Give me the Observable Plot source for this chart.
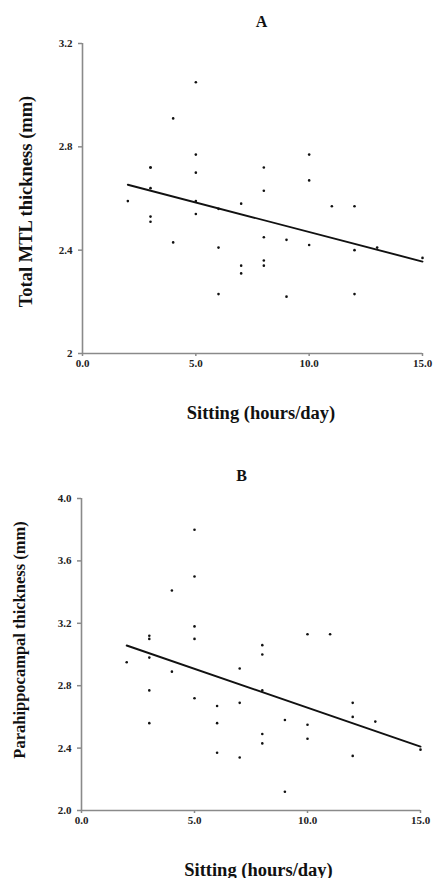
<!DOCTYPE html>
<html>
<head>
<meta charset="utf-8">
<script src="https://cdn.jsdelivr.net/npm/d3@7"></script>
<script src="https://cdn.jsdelivr.net/npm/@observablehq/plot@0.6"></script>
<style>
  html, body { margin: 0; padding: 0; background: #fff; }
  #chart { width: 433px; }
  #chart svg { display: block; }
</style>
</head>
<body>
<div id="chart"></div>
<script>
// ---- Panel A: Total MTL thickness ----
const sittingA = [2, 3, 3, 3, 3, 3, 4, 4, 5, 5, 5, 5, 5, 6, 6, 6, 7, 7, 7, 8, 8, 8, 8, 8, 9, 9, 10, 10, 10, 11, 12, 12, 12, 13, 15];
const mtlA     = [2.59, 2.72, 2.72, 2.64, 2.53, 2.51, 2.43, 2.91, 3.05, 2.77, 2.70, 2.59, 2.54, 2.56, 2.41, 2.23, 2.58, 2.34, 2.31, 2.72, 2.63, 2.45, 2.36, 2.34, 2.44, 2.22, 2.77, 2.67, 2.42, 2.57, 2.57, 2.40, 2.23, 2.41, 2.37];

// ---- Panel B: Parahippocampal thickness ----
const sittingB = [2, 3, 3, 3, 3, 3, 4, 4, 5, 5, 5, 5, 5, 6, 6, 6, 7, 7, 7, 8, 8, 8, 8, 8, 9, 9, 10, 10, 10, 11, 12, 12, 12, 13, 15];
const phcB     = [2.95, 3.12, 3.10, 2.98, 2.77, 2.56, 3.41, 2.89, 3.80, 3.50, 3.18, 3.10, 2.72, 2.67, 2.56, 2.37, 2.91, 2.69, 2.34, 3.06, 3.00, 2.77, 2.49, 2.43, 2.58, 2.12, 3.13, 2.55, 2.46, 3.13, 2.69, 2.60, 2.35, 2.57, 2.39];

// ---- Axis ticks / labels ----
const xTicks = [0, 5, 10, 15];
const xTickLabels = ["0.0", "5.0", "10.0", "15.0"];
const yTicksA = [2, 2.4, 2.8, 3.2];
const yTickLabelsA = ["2", "2.4", "2.8", "3.2"];
const yTicksB = [2.0, 2.4, 2.8, 3.2, 3.6, 4.0];
const yTickLabelsB = ["2.0", "2.4", "2.8", "3.2", "3.6", "4.0"];
const titles = ["A", "B"];
const xLabel = "Sitting (hours/day)";
const yLabels = ["Total MTL thickness (mm)", "Parahippocampal thickness (mm)"];

const FONT = "'Liberation Serif', 'Times New Roman', 'DejaVu Serif', serif";
const AXIS_GREY = "#8a8a8a";

function panel(cfg) {
  const data = cfg.xs.map((x, i) => ({x, y: cfg.ys[i]}));
  const fmt = (ticks, labels) => (d) => labels[ticks.indexOf(d)] ?? "";
  return Plot.plot({
    width: 433,
    height: 439,
    marginLeft: cfg.ml,
    marginRight: cfg.mr,
    marginTop: cfg.mt,
    marginBottom: cfg.mb,
    style: {fontFamily: FONT, background: "white", overflow: "visible"},
    x: {domain: [0, 15]},
    y: {domain: cfg.yDomain},
    marks: [
      Plot.ruleY([cfg.yDomain[0]], {stroke: AXIS_GREY, strokeWidth: 1.6}),
      Plot.ruleX([0], {stroke: AXIS_GREY, strokeWidth: 1.6}),
      Plot.axisX({
        ticks: xTicks, tickFormat: fmt(xTicks, xTickLabels),
        tickSize: 3, tickPadding: 3, stroke: AXIS_GREY, strokeWidth: 1.5,
        fontSize: 11, fontWeight: "bold", fill: "#222", label: null
      }),
      Plot.axisY({
        ticks: cfg.yTicks, tickFormat: fmt(cfg.yTicks, cfg.yTickLabels),
        tickSize: 4, tickPadding: 6, stroke: AXIS_GREY, strokeWidth: 1.5,
        fontSize: 11, fontWeight: "bold", fill: "#222", label: null
      }),
      Plot.linearRegressionY(data, {x: "x", y: "y", ci: 0, stroke: "#111", strokeWidth: 1.9}),
      Plot.dot(data, {x: "x", y: "y", r: 1.3, fill: "#111", stroke: "none"}),
      Plot.text([cfg.title], {
        frameAnchor: "top", lineAnchor: "bottom", dx: cfg.titleDx, dy: cfg.titleDy,
        fontSize: 16, fontWeight: "bold", fill: "#111"
      }),
      Plot.text([xLabel], {
        frameAnchor: "bottom", lineAnchor: "bottom", dx: cfg.xlDx, dy: cfg.xlDy,
        fontSize: 18.5, fontWeight: "bold", fill: "#111"
      }),
      Plot.text([cfg.yLabel], {
        frameAnchor: "left", rotate: -90, lineAnchor: "middle", textAnchor: "middle",
        dx: cfg.ylDx, dy: cfg.ylDy, fontSize: cfg.ylSize, fontWeight: "bold", fill: "#111"
      })
    ]
  });
}

const chart = document.getElementById("chart");
chart.append(panel({
  xs: sittingA, ys: mtlA, yDomain: [2, 3.2], yTicks: yTicksA, yTickLabels: yTickLabelsA,
  ml: 82, mr: 11, mt: 43, mb: 86,
  title: titles[0], titleDx: 9, titleDy: -17,
  xlDx: 8.5, xlDy: 65,
  yLabel: yLabels[0], ylDx: -56, ylDy: 3, ylSize: 18.5
}));
chart.append(panel({
  xs: sittingB, ys: phcB, yDomain: [2, 4], yTicks: yTicksB, yTickLabels: yTickLabelsB,
  ml: 81, mr: 13, mt: 59, mb: 68,
  title: titles[1], titleDx: -9.5, titleDy: -18,
  xlDx: 7.5, xlDy: 65,
  yLabel: yLabels[1], ylDx: -62, ylDy: -14.5, ylSize: 16.5
}));
</script>
</body>
</html>
